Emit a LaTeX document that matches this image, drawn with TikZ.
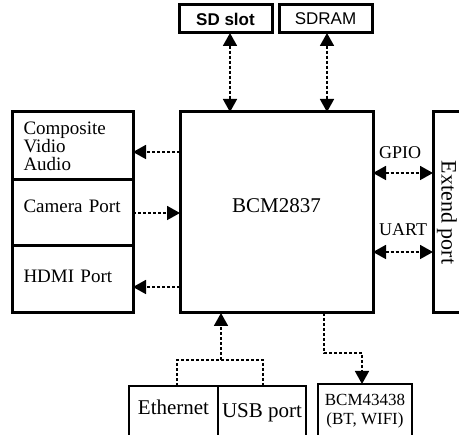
\documentclass[tikz,border=0pt]{standalone}
\usepackage{fontspec}
\setmainfont{Liberation Serif}
\newfontfamily\arialfont{Liberation Sans}
\usetikzlibrary{arrows.meta}
\tikzset{
  thickbox/.style={draw, line width=3pt, inner sep=0pt, outer sep=0pt},
  thinbox/.style={draw, line width=1.6pt, inner sep=0pt, outer sep=0pt},
  conn/.style={line width=1.7pt, dash pattern=on 3pt off 2pt},
  tip/.style={conn, -{Triangle[width=14pt,length=13pt]}},
  dbl/.style={conn, {Triangle[width=14pt,length=13pt]}-{Triangle[width=14pt,length=13pt]}},
  sidebox/.style={thickbox, minimum width=121, text width=98, align=left,
    font=\fontsize{19}{18}\selectfont},
}
\begin{document}
\begin{tikzpicture}[x=1pt, y=-1pt]
\useasboundingbox (0,0) rectangle (459,435);
\clip (0,0) rectangle (459,435);

% top boxes
\node[thickbox, minimum width=93, minimum height=28, font=\arialfont\bfseries\fontsize{17}{17}\selectfont] (sd) at (225.5,19) {SD slot};
\node[thickbox, minimum width=93, minimum height=28, font=\arialfont\fontsize{17}{17}\selectfont] (sdram) at (325.5,19) {SDRAM};

% main chip
\node[thickbox, minimum width=193, minimum height=201, text height=15, text depth=15,
  font=\fontsize{21}{21}\selectfont] (main) at (276.5,212.5) {BCM2837};

% left boxes
\node[sidebox, minimum height=68] (comp) at (72.5,146) {Composite\\Vidio\\Audio};
\node[sidebox, minimum height=66, text height=13, text depth=13] (cam) at (72.5,213) {Camera Port};
\node[sidebox, minimum height=67, text height=13, text depth=6] (hdmi) at (72.5,279.5) {HDMI Port};

% extend port
\node[thickbox, rotate=-90, minimum width=201, minimum height=28,
  font=\fontsize{22}{22}\selectfont] (ext) at (447,212.5) {Extend port};

% labels
\node[anchor=base west, inner sep=0pt, font=\fontsize{18}{18}\selectfont] (gpio) at (379,159) {GPIO};
\node[anchor=base west, inner sep=0pt, font=\fontsize{18}{18}\selectfont] (uart) at (379,236) {UART};

% bottom boxes
\node[thinbox, minimum width=89, minimum height=54, text height=14, text depth=10,
  font=\fontsize{21}{21}\selectfont] (eth) at (173.5,413) {Ethernet};
\node[thinbox, minimum width=88, minimum height=54, text height=14, text depth=4,
  font=\fontsize{21}{21}\selectfont] (usb) at (262,413) {USB port};
\node[thinbox, minimum width=94, minimum height=54, align=center,
  font=\fontsize{17}{19}\selectfont] (wifi) at (365,411) {BCM43438\\(BT, WIFI)};

\coordinate (jn) at (221,360);
\coordinate (bend) at (324,353);

% connectors
\draw[dbl] ([xshift=4.5]sd.south) -- ([xshift=4.5]sd.south |- main.north);
\draw[dbl] ([xshift=1.5]sdram.south) -- ([xshift=1.5]sdram.south |- main.north);

\draw[tip] ([yshift=-6]comp.east -| main.west) -- ([yshift=-6]comp.east);
\draw[tip] (cam.east) -- (cam.east -| main.west);
\draw[tip] ([yshift=-7.5]hdmi.east -| main.west) -- ([yshift=-7.5]hdmi.east);

\draw[dbl] ([yshift=39.5]main.east) -- ([yshift=39.5]main.east -| ext.south);
\draw[dbl] ([yshift=-39.5]main.east) -- ([yshift=-39.5]main.east -| ext.south);

\draw[conn] ([xshift=3.5]eth.north) |- (jn) -| ([xshift=1]usb.north);
\draw[tip] (jn) -- (jn |- main.south);

\draw[tip] (bend |- main.south) -- (bend) -| ([xshift=-3]wifi.north);
\end{tikzpicture}
\end{document}
